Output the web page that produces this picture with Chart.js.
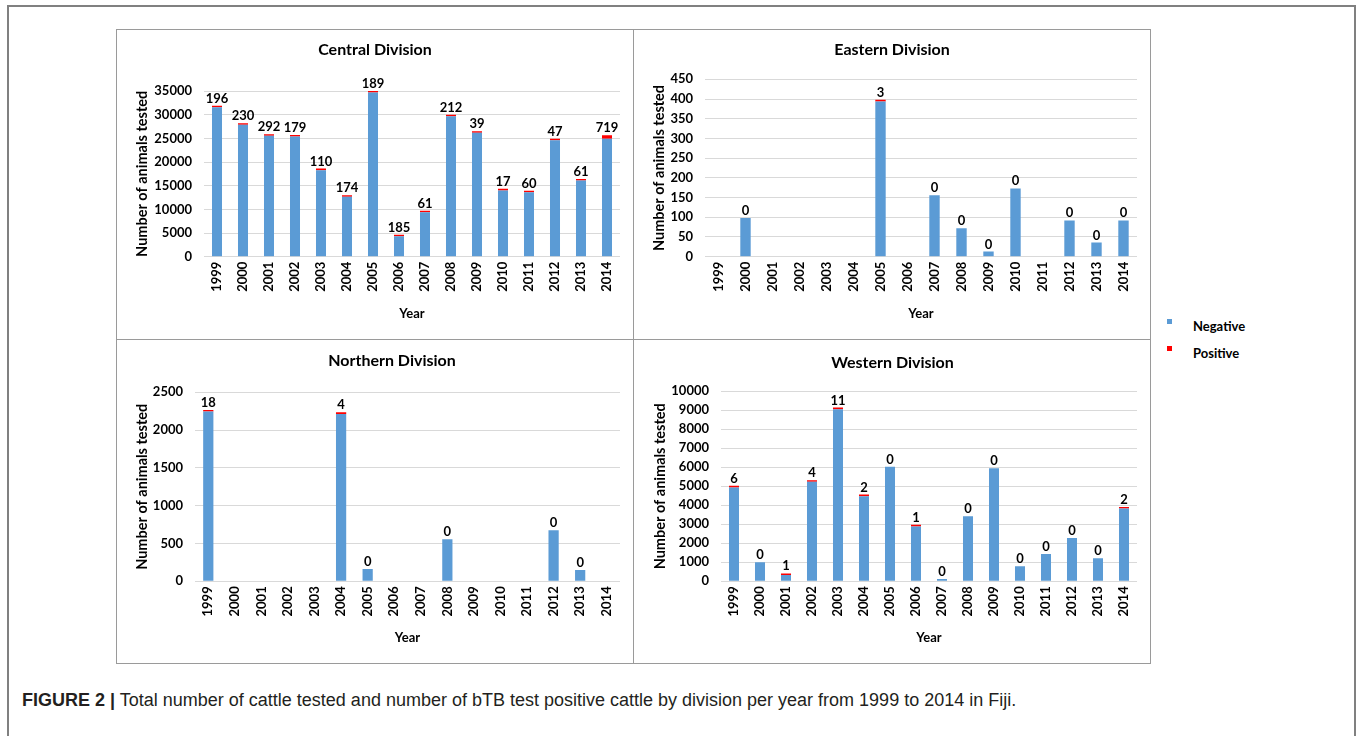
<!DOCTYPE html>
<html>
<head>
<meta charset="utf-8">
<script src="https://cdn.jsdelivr.net/npm/chart.js@4.4.1/dist/chart.umd.min.js"></script>
<style>
  html, body { margin: 0; padding: 0; background: #fff; }
  body { width: 1357px; height: 736px; position: relative; overflow: hidden; font-family: Lato, "Liberation Sans", sans-serif; }
  .frame { position: absolute; left: 7px; top: 5px; width: 1349px; height: 760px; border: 2px solid #808080; box-sizing: border-box; }
  canvas { position: absolute; }
  .box { position: absolute; left: 116px; top: 29px; width: 1035px; height: 635px; border: 1px solid #9a9a9a; box-sizing: border-box; }
  .vline { position: absolute; left: 633px; top: 29px; width: 1px; height: 635px; background: #9a9a9a; }
  .hline { position: absolute; left: 116px; top: 339px; width: 1035px; height: 1px; background: #9a9a9a; }
  .legend { position: absolute; left: 1167px; top: 316px; font: bold 13px Lato, sans-serif; color: #000; }
  .legend .item { position: relative; height: 27px; }
  .legend .sw { position: absolute; left: 0; top: 3px; width: 5px; height: 5px; }
  .legend .tx { position: absolute; left: 26px; top: 2px; white-space: nowrap; }
  .caption { position: absolute; left: 22px; top: 690px; font: 18px "Liberation Sans", Arial, sans-serif; color: #231f20; white-space: nowrap; }
  .caption b { font-weight: bold; }
</style>
</head>
<body>
<div class="frame"></div>
<canvas id="central" width="517" height="310" style="left:116px;top:29px"></canvas>
<canvas id="eastern" width="517" height="310" style="left:633px;top:29px"></canvas>
<canvas id="northern" width="517" height="324" style="left:116px;top:339px"></canvas>
<canvas id="western" width="517" height="324" style="left:633px;top:339px"></canvas>
<div class="box"></div>
<div class="vline"></div>
<div class="hline"></div>
<div class="legend" id="legend"></div>
<div class="caption"><b>FIGURE 2 |</b> Total number of cattle tested and number of bTB test positive cattle by division per year from 1999 to 2014 in Fiji.</div>

<script>
// Years on the category axis
const years = ['1999', '2000', '2001', '2002', '2003', '2004', '2005', '2006',
               '2007', '2008', '2009', '2010', '2011', '2012', '2013', '2014'];

// Series names and colours
const seriesNames = ['Negative', 'Positive'];
const seriesColors = ['#5b9bd5', '#ff0000'];

// Central Division: test-negative and test-positive cattle per year
const centralNegative = [31560, 27870, 25550, 25380, 18270, 12640, 34670, 4320,
                         9380, 29650, 26160, 14000, 13600, 24600, 16070, 24920];
const centralPositive = [196, 230, 292, 179, 110, 174, 189, 185,
                         61, 212, 39, 17, 60, 47, 61, 719];

// Eastern Division (null = no testing that year)
const easternNegative = [null, 98, null, null, null, null, 394, null,
                         156, 72, 13, 173, null, 92, 36, 92];
const easternPositive = [null, 0, null, null, null, null, 3, null,
                         0, 0, 0, 0, null, 0, 0, 0];

// Northern Division
const northernNegative = [2245, null, null, null, null, 2214, 163, null,
                          null, 556, null, null, null, 675, 150, null];
const northernPositive = [18, null, null, null, null, 4, 0, null,
                          null, 0, null, null, null, 0, 0, null];

// Western Division
const westernNegative = [4940, 1000, 330, 5240, 9060, 4480, 6030, 2890,
                         120, 3420, 5950, 790, 1440, 2280, 1210, 3830];
const westernPositive = [6, 0, 1, 4, 11, 2, 0, 1,
                         0, 0, 0, 0, 0, 0, 0, 2];

// Value-axis ranges (max, step) per division
const centralAxis = [35000, 5000];
const easternAxis = [450, 50];
const northernAxis = [2500, 500];
const westernAxis = [10000, 1000];

const labelFont = { family: 'Lato', weight: 'bold', size: 13 };
const axisTitleFont = { family: 'Lato', weight: 'bold', size: 14.5 };

// Draws the division heading at a fixed spot in the panel
function headingPlugin(text, x, y) {
  return {
    id: 'heading',
    afterDraw(chart) {
      const ctx = chart.ctx;
      ctx.save();
      ctx.font = 'bold 16px Lato';
      ctx.fillStyle = '#000';
      ctx.textAlign = 'center';
      ctx.textBaseline = 'middle';
      ctx.fillText(text, x, y);
      ctx.restore();
    }
  };
}

// Writes the positive count above each stacked bar
function countLabels(counts) {
  return {
    id: 'countLabels',
    afterDatasetsDraw(chart) {
      const ctx = chart.ctx;
      const neg = chart.getDatasetMeta(0);
      const pos = chart.getDatasetMeta(1);
      ctx.save();
      ctx.font = 'bold 13px Lato';
      ctx.fillStyle = '#000';
      ctx.textAlign = 'center';
      ctx.textBaseline = 'alphabetic';
      counts.forEach((c, i) => {
        if (c === null) return;
        const el = c > 0 ? pos.data[i] : neg.data[i];
        ctx.fillText(String(c), el.x, el.y - 3);
      });
      ctx.restore();
    }
  };
}

function drawPanel(id, negative, positive, axis, g) {
  new Chart(document.getElementById(id), {
    type: 'bar',
    data: {
      labels: years,
      datasets: [
        {
          label: seriesNames[0], data: negative, backgroundColor: seriesColors[0],
          categoryPercentage: 1, barPercentage: 0.385, stack: 's'
        },
        {
          label: seriesNames[1], data: positive.map(v => (v ? v : null)), backgroundColor: seriesColors[1],
          categoryPercentage: 1, barPercentage: 0.385, stack: 's', minBarLength: 1.6
        }
      ]
    },
    options: {
      responsive: false,
      animation: false,
      events: [],
      layout: { padding: { top: g.top, right: 13, bottom: 0, left: 0 } },
      plugins: { legend: { display: false }, tooltip: { enabled: false }, title: { display: false } },
      scales: {
        x: {
          stacked: true,
          grid: { display: false, drawTicks: false },
          border: { display: false },
          ticks: { autoSkip: false, minRotation: 90, maxRotation: 90, padding: 5, font: labelFont, color: '#000' },
          title: { display: true, text: 'Year', font: labelFont, color: '#000', padding: { top: 0, bottom: 17 } },
          afterFit(s) { s.height = g.bottom; }
        },
        y: {
          stacked: true,
          min: 0,
          max: axis[0],
          grid: { color: '#d9d9d9', drawTicks: false },
          border: { display: false },
          ticks: { stepSize: axis[1], padding: 12, font: labelFont, color: '#000', callback: v => String(v) },
          title: { display: true, text: 'Number of animals tested', font: axisTitleFont, color: '#000', padding: { top: g.yTitle, bottom: 0 } },
          afterFit(s) { s.width = g.left; }
        }
      }
    },
    plugins: [headingPlugin(g.heading, g.hx, g.hy), countLabels(positive)]
  });
}

drawPanel('central', centralNegative, centralPositive, centralAxis,
  { top: 62, bottom: 82.3, left: 88, yTitle: 17.3, heading: 'Central Division', hx: 259, hy: 21 });
drawPanel('eastern', easternNegative, easternPositive, easternAxis,
  { top: 50.3, bottom: 82.3, left: 72, yTitle: 17.3, heading: 'Eastern Division', hx: 259, hy: 21 });
drawPanel('northern', northernNegative, northernPositive, northernAxis,
  { top: 53.3, bottom: 81.7, left: 79, yTitle: 17.3, heading: 'Northern Division', hx: 276, hy: 22 });
drawPanel('western', westernNegative, westernPositive, westernAxis,
  { top: 52.3, bottom: 81.7, left: 88, yTitle: 18.3, heading: 'Western Division', hx: 259.5, hy: 24 });

// Shared legend
const legend = document.getElementById('legend');
seriesNames.forEach((name, i) => {
  const item = document.createElement('div');
  item.className = 'item';
  const sw = document.createElement('div');
  sw.className = 'sw';
  sw.style.background = seriesColors[i];
  const tx = document.createElement('div');
  tx.className = 'tx';
  tx.textContent = name;
  item.appendChild(sw);
  item.appendChild(tx);
  legend.appendChild(item);
});
</script>
</body>
</html>
